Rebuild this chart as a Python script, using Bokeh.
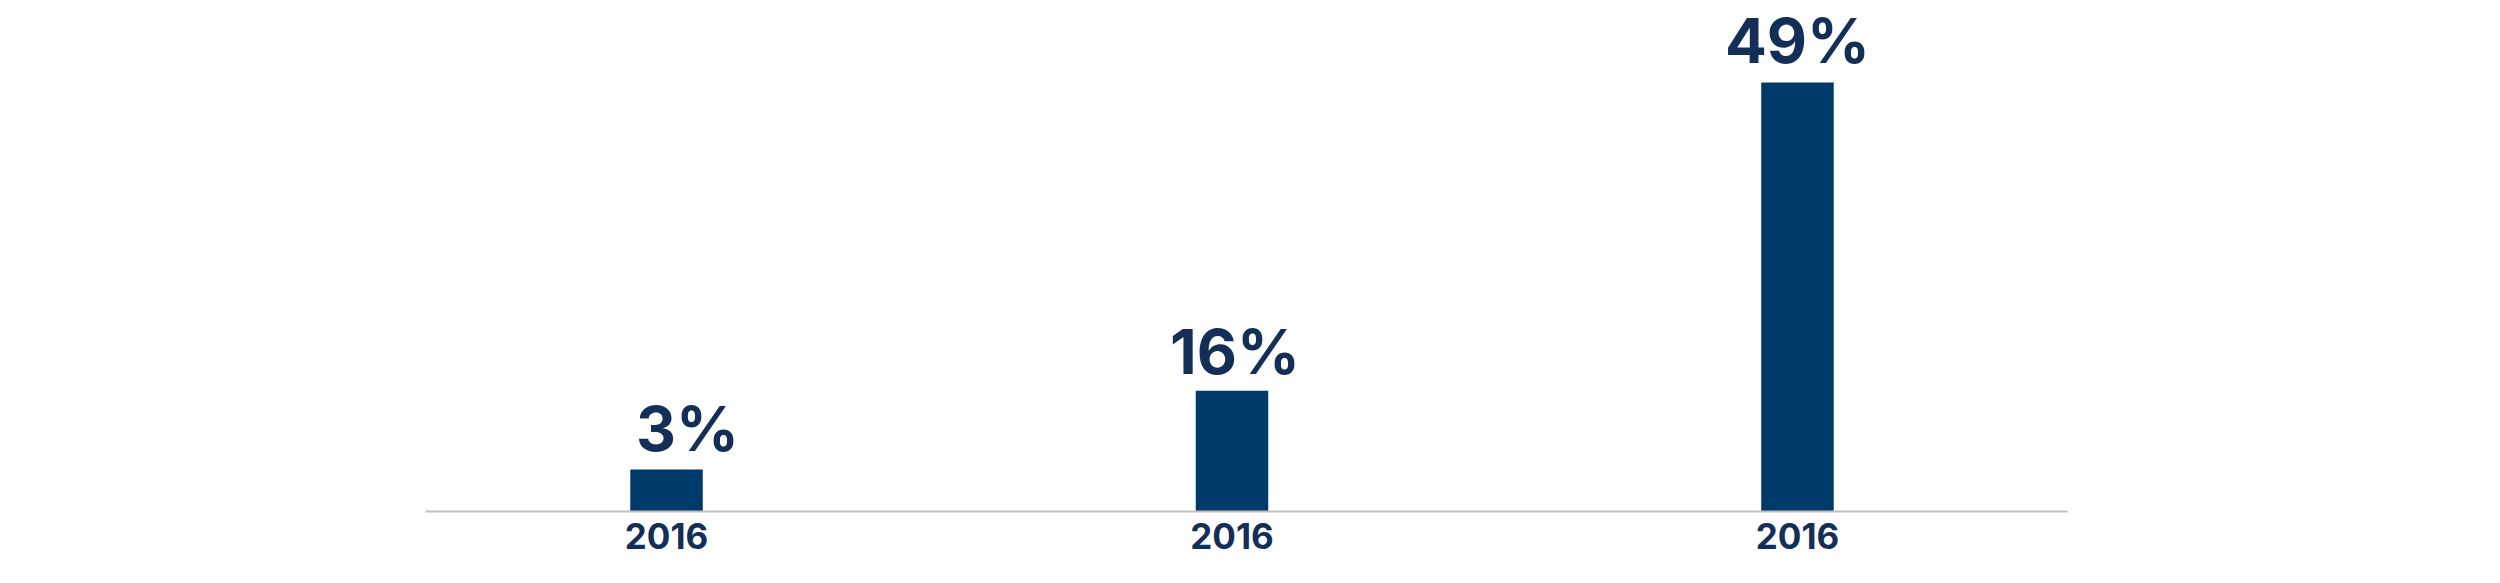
from bokeh.plotting import figure
from bokeh.models import ColumnDataSource, Range1d, FixedTicker
from bokeh.core.properties import value
from bokeh.embed import file_html
from bokeh.resources import INLINE

# ---- data ----
years = ["2016", "2016", "2016"]
share_labels = ["3%", "16%", "49%"]
bar_heights = [4.8, 13.8, 49.0]   # bar heights as drawn (in % units of the tallest bar)

# ---- styling ----
BAR_COLOR = "#003a6b"
TEXT_COLOR = "#142f57"
AXIS_COLOR = "#c0c0c0"
FONT = "Inter"
label_dx = [21, 3, 0]        # px horizontal nudges of the value labels
label_dy = [-41, -39, -42]   # px vertical nudges of the value labels

xs = list(range(len(years)))
src = ColumnDataSource(dict(
    x=xs,
    top=bar_heights,
    label=share_labels,
    dx=label_dx,
    dy=label_dy,
))

p = figure(
    width=2500, height=583,
    output_backend="svg", toolbar_location=None,
    x_range=Range1d(-0.4262, 2.4775),
    y_range=Range1d(0, 58.37),
    y_axis_location=None,
    min_border_left=425, min_border_right=433,
    min_border_top=0, min_border_bottom=72,
    background_fill_color="white", border_fill_color="white",
)
p.outline_line_color = None
p.xgrid.visible = False
p.ygrid.visible = False

p.vbar(x="x", top="top", bottom=0, width=0.1282, source=src,
       fill_color=BAR_COLOR, line_color=None)

p.text(x="x", y="top", text="label", source=src,
       x_offset="dx", y_offset="dy",
       text_align="center", text_baseline="alphabetic",
       text_font=value(FONT), text_font_style="bold",
       text_font_size="62px", text_color=TEXT_COLOR)

ax = p.xaxis[0]
ax.ticker = FixedTicker(ticks=xs)
ax.major_label_overrides = {i: y for i, y in zip(xs, years)}
ax.major_tick_line_color = None
ax.minor_tick_line_color = None
ax.major_tick_out = 0
ax.major_tick_in = 0
ax.minor_tick_out = 0
ax.axis_line_color = AXIS_COLOR
ax.axis_line_width = 2
ax.major_label_standoff = 11
ax.major_label_text_font = FONT
ax.major_label_text_font_style = "bold"
ax.major_label_text_font_size = "35px"
ax.major_label_text_color = TEXT_COLOR

open("out.html", "w").write(file_html(p, INLINE))
